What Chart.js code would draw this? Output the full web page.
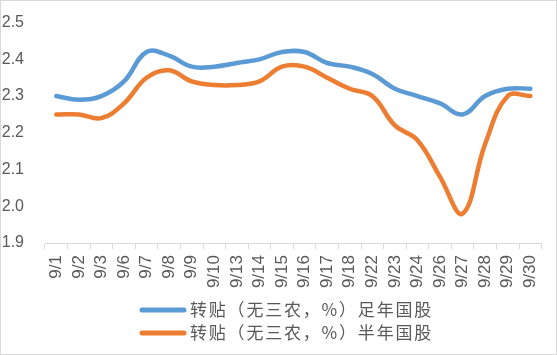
<!DOCTYPE html>
<html><head><meta charset="utf-8">
<script src="https://cdn.jsdelivr.net/npm/chart.js@4"></script>
<style>
html,body{margin:0;padding:0;background:#fff;}
canvas{display:block;}
</style></head><body>
<canvas id="c" width="557" height="355"></canvas>
<script>
const categories = ["9/1","9/2","9/3","9/6","9/7","9/8","9/9","9/10","9/13","9/14","9/15","9/16","9/17","9/18","9/22","9/23","9/24","9/26","9/27","9/28","9/29","9/30"];
const fullYearSeries = [2.30,2.29,2.30,2.34,2.42,2.41,2.38,2.38,2.39,2.40,2.42,2.42,2.39,2.38,2.36,2.32,2.30,2.28,2.25,2.30,2.32,2.32];
const halfYearSeries = [2.25,2.25,2.24,2.28,2.35,2.37,2.34,2.33,2.33,2.34,2.38,2.38,2.35,2.32,2.30,2.22,2.18,2.08,1.98,2.17,2.30,2.30];
const seriesNames = ["转贴（无三农，%）足年国股","转贴（无三农，%）半年国股"];
const yTicks = [1.9,2.0,2.1,2.2,2.3,2.4,2.5];

const gray = '#595959';

const frameAndLegend = {
  id: 'frameAndLegend',
  afterDraw(chart) {
    const ctx = chart.ctx;
    ctx.save();
    ctx.strokeStyle = '#d9d9d9';
    ctx.lineWidth = 1;
    ctx.strokeRect(0.5, 0.5, chart.width - 1, chart.height - 1);
    const rows = [310, 333];
    chart.data.datasets.forEach((ds, i) => {
      const y = rows[i];
      ctx.strokeStyle = ds.borderColor;
      ctx.lineWidth = 5;
      ctx.lineCap = 'round';
      ctx.beginPath();
      ctx.moveTo(142, y);
      ctx.lineTo(184, y);
      ctx.stroke();
      ctx.font = '17px "Noto Sans CJK SC"';
      ctx.letterSpacing = '0px';
      const w = ctx.measureText(ds.label).width;
      const n = [...ds.label].length;
      ctx.letterSpacing = ((243 - w) / n).toFixed(2) + 'px';
      ctx.fillStyle = gray;
      ctx.textBaseline = 'middle';
      ctx.textAlign = 'left';
      ctx.fillText(ds.label, 190, y);
    });
    ctx.restore();
  }
};

new Chart(document.getElementById('c'), {
  type: 'line',
  data: {
    labels: categories,
    datasets: [
      {label: seriesNames[0], data: fullYearSeries, borderColor: '#5b9bd5', backgroundColor: '#5b9bd5', borderWidth: 4.5, pointRadius: 0, tension: 0.4, borderCapStyle: 'round'},
      {label: seriesNames[1], data: halfYearSeries, borderColor: '#ed7d31', backgroundColor: '#ed7d31', borderWidth: 4.5, pointRadius: 0, tension: 0.4, borderCapStyle: 'round'}
    ]
  },
  plugins: [frameAndLegend],
  options: {
    responsive: false,
    animation: false,
    layout: {padding: {left: 0, right: 12, top: 20, bottom: 0}},
    plugins: {
      tooltip: {enabled: false},
      legend: {display: false}
    },
    scales: {
      x: {
        offset: true,
        afterFit: s => { s.height = 112; },
        grid: {display: true, drawOnChartArea: false, offset: true, color: '#d9d9d9', tickLength: 6},
        border: {color: '#d9d9d9'},
        ticks: {color: gray, minRotation: 90, maxRotation: 90, autoSkip: false, padding: 6,
          font: {family: '"Liberation Sans"', size: 17}}
      },
      y: {
        min: 1.9, max: 2.5,
        afterBuildTicks: s => { s.ticks = yTicks.map(v => ({value: v})); },
        afterFit: s => { s.width = 45; },
        grid: {display: false},
        border: {display: false},
        ticks: {color: gray, padding: 13, callback: v => v.toFixed(1),
          font: {family: '"Liberation Sans"', size: 16}}
      }
    }
  }
});
</script>
</body></html>
